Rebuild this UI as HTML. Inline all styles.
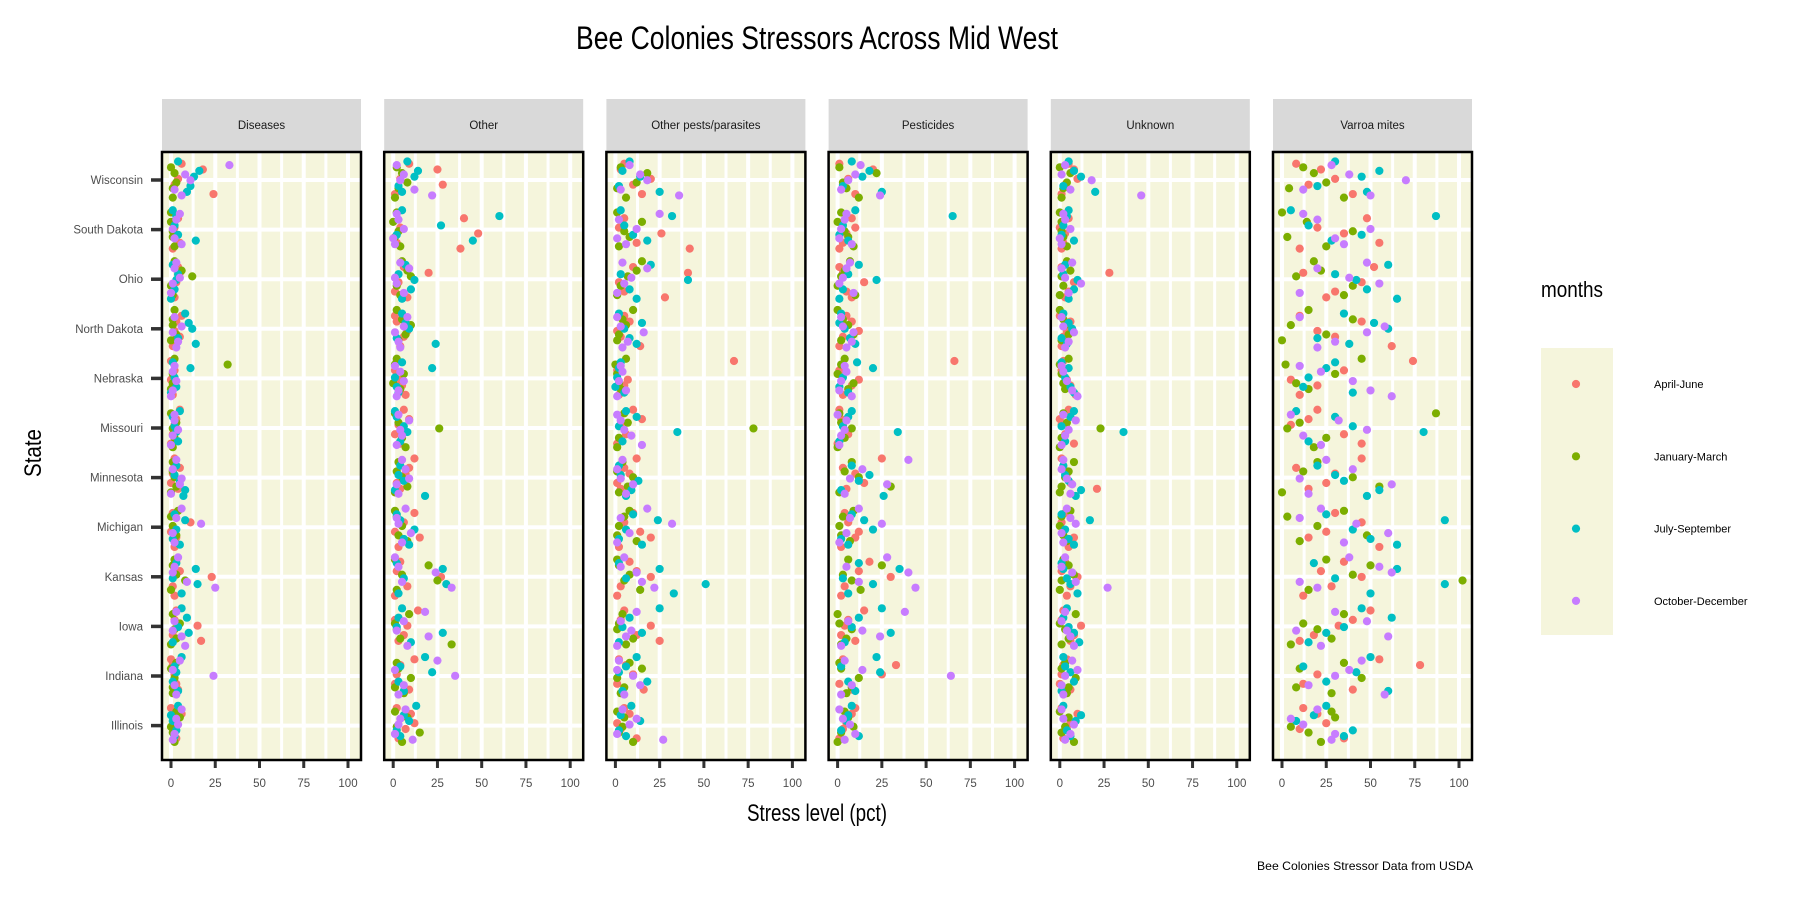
<!DOCTYPE html>
<html><head><meta charset="utf-8"><style>
body{margin:0;background:#fff;}
svg{display:block;font-family:"Liberation Sans",sans-serif;}
</style></head><body>
<svg id="chart" width="1800" height="900" viewBox="0 0 1800 900" xmlns="http://www.w3.org/2000/svg">
<text x="817" y="49" text-anchor="middle" font-size="32" textLength="482" lengthAdjust="spacingAndGlyphs" fill="#000">Bee Colonies Stressors Across Mid West</text>
<text x="817" y="821" text-anchor="middle" font-size="24" textLength="140" lengthAdjust="spacingAndGlyphs" fill="#000">Stress level (pct)</text>
<text transform="translate(41,453) rotate(-90)" text-anchor="middle" font-size="24" textLength="48" lengthAdjust="spacingAndGlyphs" fill="#000">State</text>
<text x="1473" y="870" text-anchor="end" font-size="12" textLength="216" lengthAdjust="spacingAndGlyphs" fill="#000">Bee Colonies Stressor Data from USDA</text>
<g id="panels"></g>
<g id="legend"></g>
</svg>
<script>
const states = ["Wisconsin","South Dakota","Ohio","North Dakota","Nebraska","Missouri","Minnesota","Michigan","Kansas","Iowa","Indiana","Illinois"];
const quarters = ["April-June","January-March","July-September","October-December"];
const colors = ["#F8766D","#7CAE00","#00BFC4","#C77CFF"];
const stressors = ["Diseases","Other","Other pests/parasites","Pesticides","Unknown","Varroa mites"];
const xTicks = [0,25,50,75,100];

const diseases = [
[[2,18,24,4,6],[1,2,1,3,0],[9,13,4,11,16],[6,11,33,2,8]],
[[1,2,4,5,2],[0,1,0,2,1],[3,14,2,1,4],[3,6,1,5,2]],
[[5,2,3,4,1],[12,2,0,6,1],[3,1,2,4,0],[1,2,0,5,3]],
[[5,3,1,2,6],[0,1,2,3,1],[14,12,8,4,10],[3,1,2,4,6]],
[[0,1,2,1,0],[32,0,1,2,1],[11,0,2,1,3],[1,0,3,2,1]],
[[2,5,1,3,0],[1,0,2,3,1],[3,1,4,2,5],[1,2,0,4,2]],
[[4,1,2,0,5],[0,2,1,3,1],[7,5,3,8,2],[3,5,1,0,6]],
[[1,3,11,2,0],[0,2,1,4,3],[8,5,3,2,1],[17,6,1,3,2]],
[[23,3,1,5,2],[8,1,0,3,2],[15,14,6,1,3],[25,1,4,9,2]],
[[17,15,3,1,2],[0,2,1,3,5],[6,10,9,1,4],[3,6,2,8,1]],
[[1,4,2,0,3],[0,1,2,3,1],[3,6,1,2,4],[24,5,2,1,3]],
[[1,6,3,2,0],[1,5,2,0,3],[2,1,4,3,0],[1,4,6,2,3]]];
const other = [
[[28,25,1,4,9],[3,5,1,8,2],[5,12,8,3,14],[22,4,2,12,6]],
[[38,48,40,2,4],[2,1,0,4,3],[60,45,27,5,2],[3,1,6,2,0]],
[[20,8,3,6,1],[10,5,2,8,4],[12,7,10,3,5],[2,9,6,1,4]],
[[6,2,4,8,1],[3,10,2,7,5],[24,9,5,2,7],[4,1,8,3,6]],
[[2,5,1,7,3],[1,4,6,2,0],[22,3,1,5,2],[4,2,6,1,3]],
[[3,6,1,9,4],[26,1,5,3,7],[8,2,4,6,1],[5,9,2,4,3]],
[[4,7,12,2,9],[1,5,3,8,2],[18,6,4,1,3],[5,2,7,3,9]],
[[12,15,6,3,1],[2,8,5,1,3],[4,9,12,2,6],[3,7,10,2,5]],
[[27,4,8,2,1],[25,20,2,5,1],[30,28,3,6,2],[33,24,1,5,3]],
[[3,8,14,6,1],[33,2,9,4,1],[5,28,3,10,2],[18,20,6,8,2]],
[[4,9,2,12,1],[3,6,10,2,1],[22,18,3,4,6],[35,25,6,1,3]],
[[7,10,3,12,2],[15,8,5,2,1],[4,9,13,2,6],[11,3,7,1,4]]];
const otherPests = [
[[10,3,15,20,5],[1,18,6,12,3],[25,14,8,2,4],[36,18,8,3,14]],
[[42,26,5,12,2],[1,8,15,2,5],[32,18,5,3,10],[2,6,12,25,1]],
[[41,28,2,10,5],[7,15,3,12,1],[41,20,8,3,12],[5,18,1,9,4]],
[[3,8,14,1,5],[1,6,10,2,4],[12,5,2,8,15],[4,16,1,7,3]],
[[67,5,1,2,7],[0,3,1,6,2],[2,5,1,3,0],[4,1,2,3,6]],
[[3,10,6,15,1],[78,5,2,7,1],[35,12,4,2,6],[9,3,15,5,1]],
[[3,8,12,1,5],[2,10,4,7,1],[6,13,2,9,3],[4,10,1,6,3]],
[[10,20,5,2,14],[5,12,2,8,1],[24,15,6,10,2],[32,18,8,3,1]],
[[20,8,3,12,1],[5,2,14,8,1],[51,25,33,6,2],[22,12,5,15,3]],
[[25,20,5,12,3],[6,1,4,10,2],[25,15,8,2,4],[12,6,3,1,9]],
[[6,16,10,2,1],[15,3,1,8,5],[2,12,18,6,4],[10,2,14,1,5]],
[[3,8,12,1,5],[2,5,10,4,1],[6,14,9,2,3],[27,8,4,1,12]]];
const pesticides = [
[[3,20,10,6,1],[5,22,12,3,1],[25,14,8,3,18],[24,6,13,2,10]],
[[1,5,8,3,10],[2,6,0,9,4],[65,6,3,10,1],[4,8,2,5,1]],
[[3,8,15,1,5],[2,7,0,4,10],[22,12,3,6,1],[1,5,9,3,7]],
[[3,8,1,12,5],[2,6,0,9,3],[10,4,2,7,1],[5,9,2,8,3]],
[[66,8,1,3,12],[2,6,0,4,9],[20,6,3,11,1],[5,8,2,4,1]],
[[3,1,6,2,0],[8,1,4,2,0],[34,6,1,3,8],[2,5,1,4,0]],
[[5,10,25,15,3],[1,12,8,30,4],[26,12,8,2,18],[40,28,14,4,7]],
[[4,10,6,2,12],[3,7,1,9,2],[15,6,20,8,2],[25,12,5,7,1]],
[[30,18,4,12,2],[8,25,13,3,6],[20,35,6,3,12],[44,40,28,12,5]],
[[10,4,15,2,6],[2,8,0,5,1],[25,30,12,4,8],[38,24,6,2,14]],
[[33,8,25,3,1],[2,5,12,1,8],[24,22,6,2,10],[64,4,8,14,2]],
[[3,8,1,5,10],[2,6,0,9,4],[12,5,8,2,6],[4,7,1,10,3]]];
const unknown = [
[[3,8,1,10,5],[2,6,1,4,0],[20,12,5,2,8],[46,18,3,6,1]],
[[1,3,5,2,0],[0,2,1,4,1],[4,8,2,5,1],[3,1,6,2,0]],
[[28,3,8,1,5],[1,4,2,6,0],[10,3,8,2,5],[12,1,5,3,7]],
[[2,6,1,4,0],[1,3,0,5,2],[4,7,2,1,5],[3,8,1,5,2]],
[[2,6,1,9,4],[0,3,1,5,2],[5,8,3,1,6],[2,10,4,1,7]],
[[1,5,3,0,8],[23,2,1,4,0],[36,6,3,1,8],[3,9,1,5,2]],
[[21,4,1,6,2],[0,3,8,1,5],[9,5,2,12,3],[2,7,1,6,4]],
[[3,8,1,5,2],[1,4,0,6,2],[17,8,3,1,5],[9,4,1,6,2]],
[[10,3,6,1,4],[1,5,0,8,2],[6,2,10,4,1],[27,7,3,9,1]],
[[6,12,2,8,1],[1,3,9,5,0],[4,8,2,11,5],[3,6,1,8,4]],
[[2,6,1,4,0],[1,4,9,3,5],[6,2,8,3,1],[3,7,1,10,2]],
[[4,10,2,6,1],[1,5,8,3,0],[6,9,2,4,12],[3,8,1,6,2]]];
const varroa = [
[[15,22,40,30,8],[4,18,35,25,12],[48,45,30,20,55],[50,70,28,12,38]],
[[10,35,48,55,20],[0,3,14,25,40],[87,28,15,5,45],[20,35,50,12,30]],
[[12,25,45,52,30],[8,18,40,22,35],[42,60,48,30,65],[55,20,10,38,48]],
[[30,45,62,20,10],[0,5,15,25,40],[38,60,35,20,52],[20,48,10,30,58]],
[[74,20,35,10,5],[2,15,30,45,8],[25,40,15,30,12],[22,62,40,10,50]],
[[5,20,35,15,45],[3,87,25,10,18],[80,30,15,40,8],[12,32,22,48,5]],
[[15,30,45,25,8],[0,40,20,55,12],[48,35,20,55,30],[25,62,40,15,10]],
[[30,15,45,55,25],[3,10,20,35,48],[92,65,40,25,50],[42,22,60,10,35]],
[[45,35,28,22,12],[102,50,15,40,25],[92,65,50,30,18],[20,62,38,10,55]],
[[10,32,50,18,40],[5,20,35,28,12],[45,25,62,15,35],[30,60,48,22,8]],
[[78,40,20,55,12],[10,28,45,35,8],[42,50,25,12,60],[30,45,15,38,58]],
[[10,20,35,25,12],[15,30,22,5,28],[35,8,25,40,18],[28,12,20,30,5]]];
const panelData = [diseases, other, otherPests, pesticides, unknown, varroa];

const NS = "http://www.w3.org/2000/svg";
const P_LEFT0 = 162, P_STEP = 222.2, P_W = 199, P_TOP = 152, P_BOT = 760, STRIP_TOP = 99;
function xScale(panel, v){ return P_LEFT0 + panel*P_STEP + 9 + v*1.77; }
function yScale(si){ return 180 + si*49.6; }
function mk(tag, attrs, parent){ const e=document.createElementNS(NS,tag); for(const k in attrs) e.setAttribute(k,attrs[k]); parent.appendChild(e); return e; }
const root = document.getElementById('panels');

stressors.forEach((name,p)=>{
  const left = P_LEFT0 + p*P_STEP;
  const g = mk('g',{},root);
  
  
  const strip = mk('rect',{x:left,y:STRIP_TOP,width:P_W,height:P_TOP-STRIP_TOP,fill:'#d9d9d9'},g);
  
  
  const st = mk('text',{x:left+P_W/2,y:129,'text-anchor':'middle','font-size':11.5,fill:'#1a1a1a'},g);
  st.textContent = name;
  
  
  const bg = mk('rect',{x:left,y:P_TOP,width:P_W,height:P_BOT-P_TOP,fill:'#f5f5dc'},g);
  
  
  for(let v=0; v<=100; v+=12.5){
    const x = xScale(p,v);
    const gl = mk('line',{x1:x,x2:x,y1:P_TOP,y2:P_BOT,stroke:'#fff','stroke-width':(v%25===0)?4:3},g);
    
    
  }
  states.forEach((s,si)=>{
    const y=yScale(si);
    const gl = mk('line',{x1:left,x2:left+P_W,y1:y,y2:y,stroke:'#fff','stroke-width':4},g);
    
    
  });
  const data = panelData[p];
  let idx=0;
  data.forEach((row,si)=>{
    row.forEach((vals,qi)=>{
      vals.forEach((v)=>{
        idx++;
        const jit = ((idx*0.6180339887)%1 - 0.5)*0.8*49.6;
        const c = mk('circle',{cx:xScale(p,v),cy:yScale(si)+jit,r:4.1,fill:colors[qi]},g);
        
        
      });
    });
  });
  const border = mk('rect',{x:left,y:P_TOP,width:P_W,height:P_BOT-P_TOP,fill:'none',stroke:'#000','stroke-width':2.5},g);
  
  
  xTicks.forEach(t=>{
    const x=xScale(p,t);
    const tk = mk('line',{x1:x,x2:x,y1:P_BOT+1,y2:P_BOT+8,stroke:'#333','stroke-width':3},g);
    
    
    const tl = mk('text',{x:x,y:787,'text-anchor':'middle','font-size':11.5,fill:'#4d4d4d'},g);
    tl.textContent = t;
    
    
  });
});
states.forEach((s,si)=>{
  const y=yScale(si);
  const tk = mk('line',{x1:151,x2:161,y1:y,y2:y,stroke:'#333','stroke-width':3.5},root);
  
  
  const tl = mk('text',{x:143,y:y+4,'text-anchor':'end','font-size':11.5,fill:'#4d4d4d'},root);
  tl.textContent = s;
  
  
});
const lg = document.getElementById('legend');
const lt = mk('text',{x:1541,y:297,'font-size':22,textLength:62,lengthAdjust:'spacingAndGlyphs',fill:'#000'},lg);
lt.textContent='months';


const lb = mk('rect',{x:1541,y:348,width:72,height:287,fill:'#f5f5dc'},lg);


quarters.forEach((q,qi)=>{
  const y = 384 + qi*72.3;
  const c = mk('circle',{cx:1576,cy:y,r:4.1,fill:colors[qi]},lg);
  
  
  const t = mk('text',{x:1654,y:y+4,'font-size':11,fill:'#000'},lg);
  t.textContent=q;
  
  
});
</script>
</body></html>
